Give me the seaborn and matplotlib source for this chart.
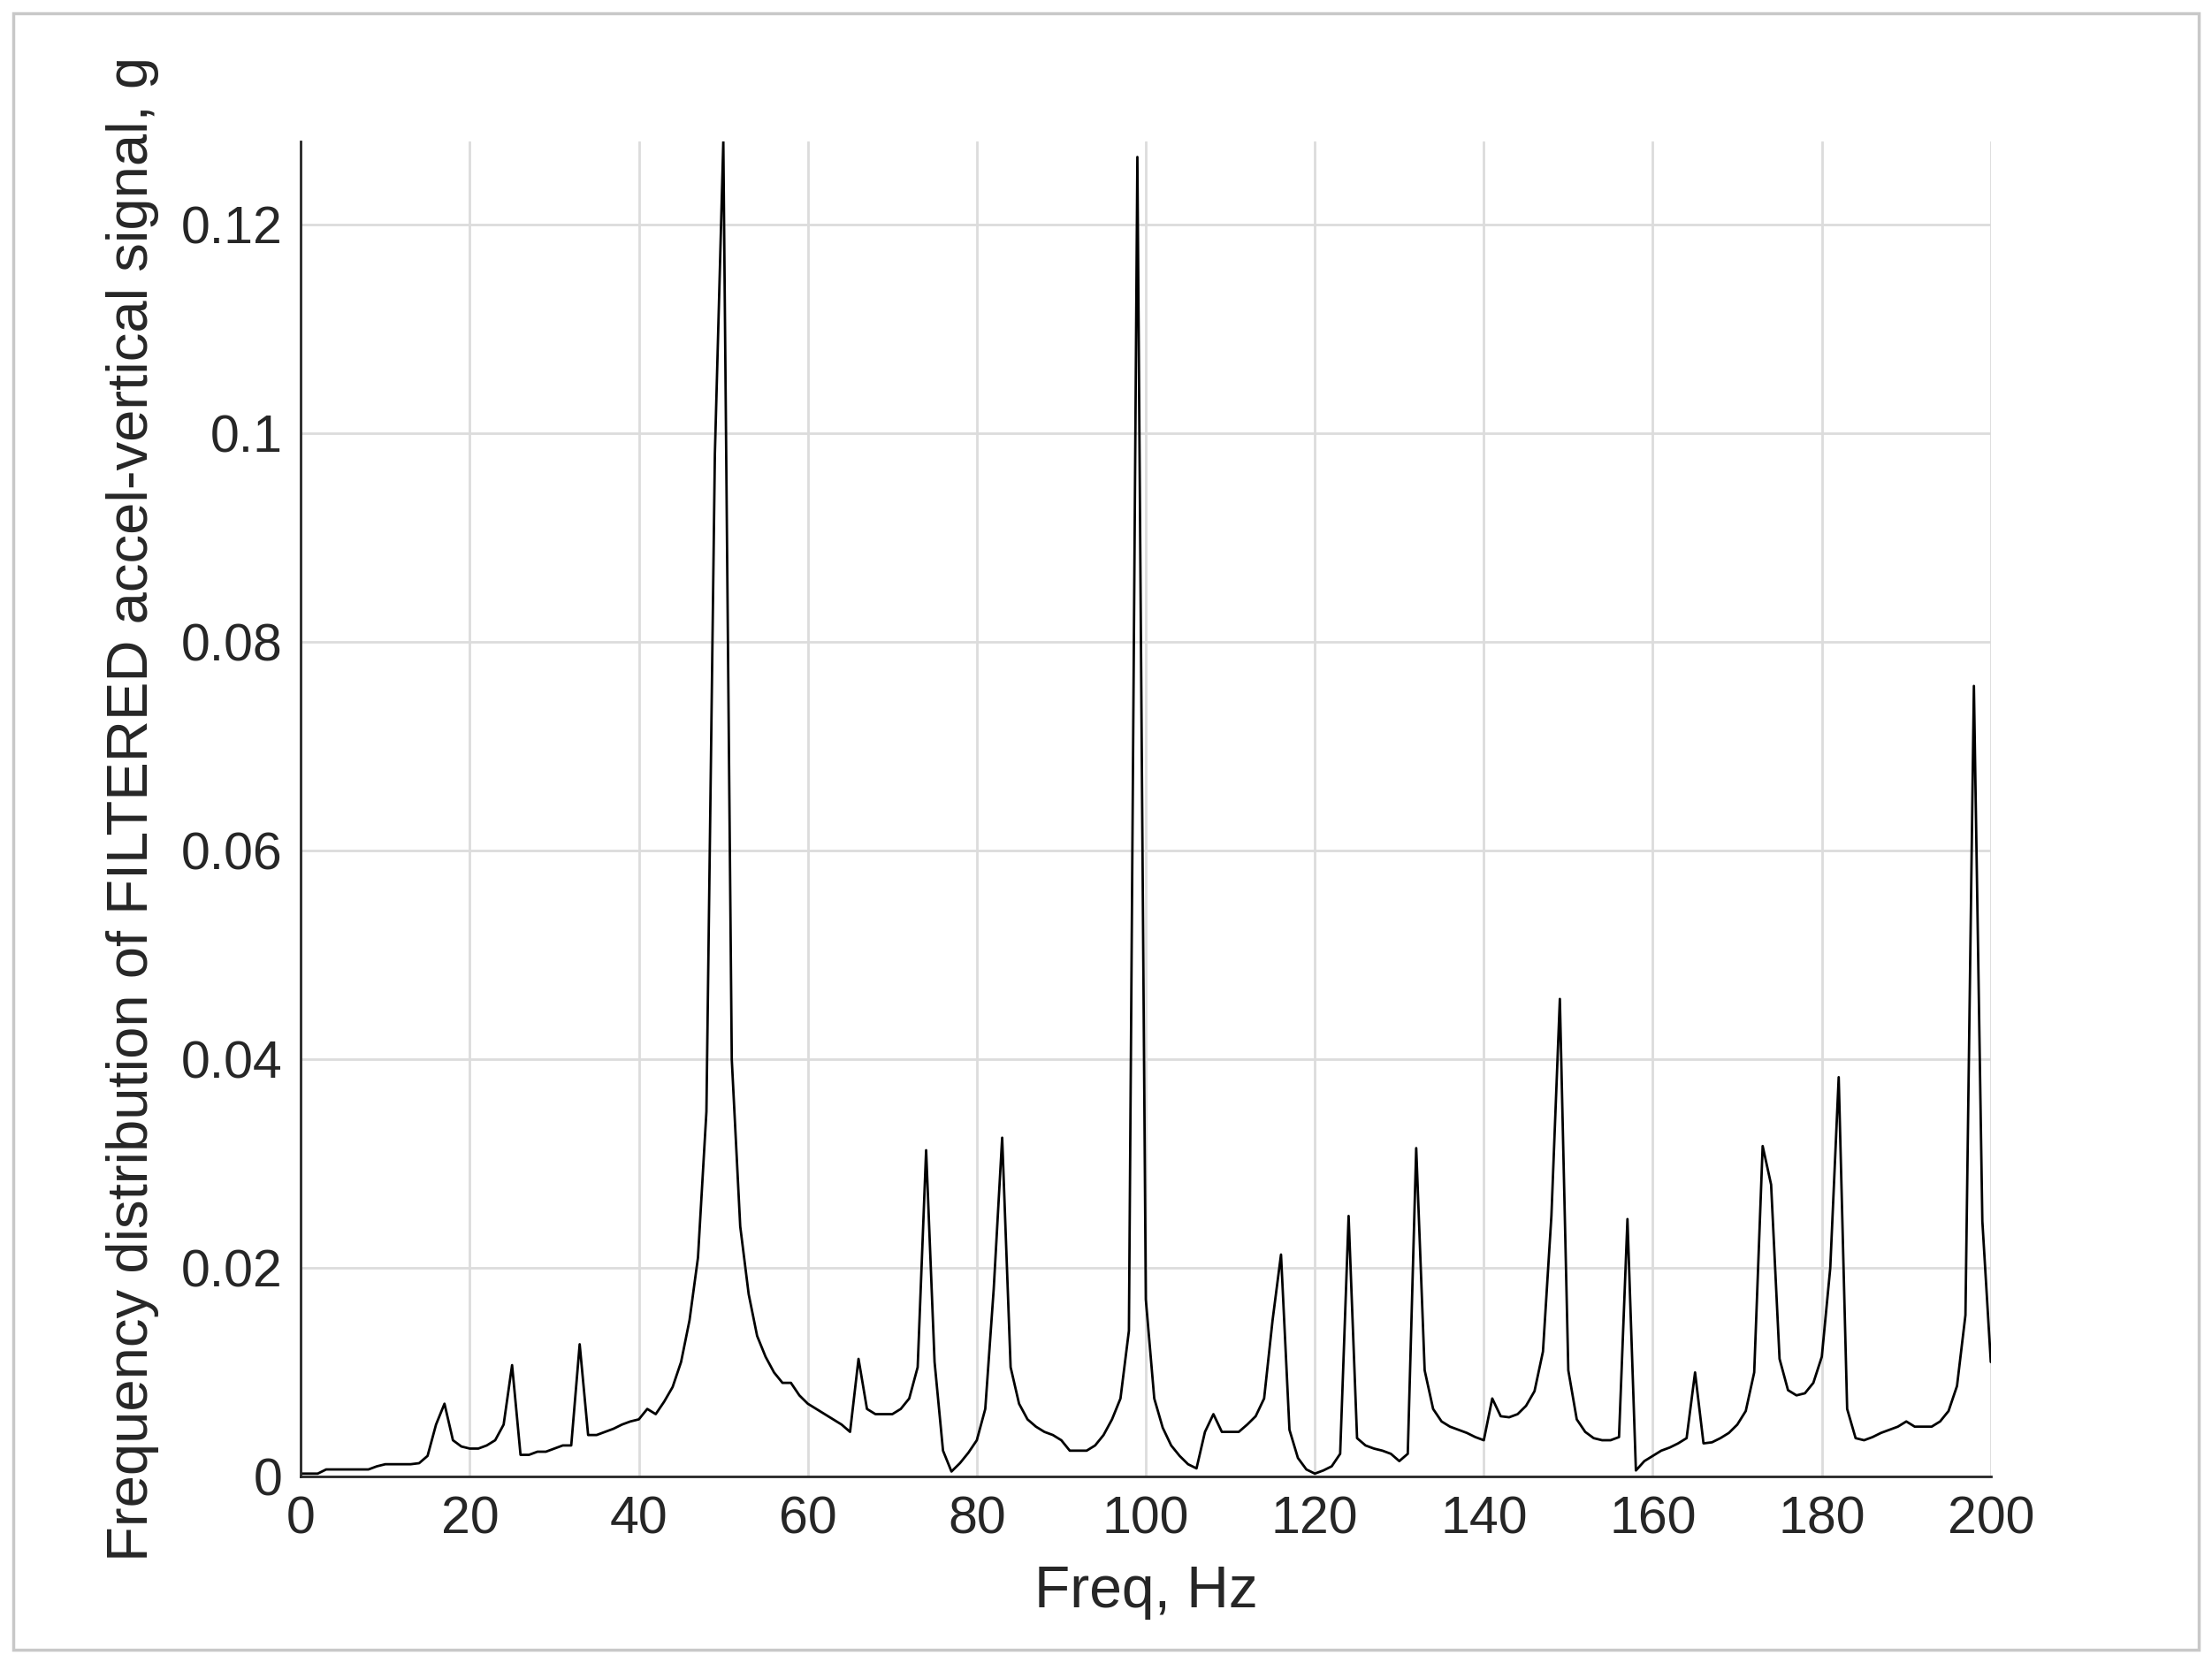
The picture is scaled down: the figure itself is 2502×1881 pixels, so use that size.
import matplotlib
matplotlib.use("Agg")
import matplotlib.pyplot as plt
import pandas as pd
import seaborn as sns

freq_hz = list(range(0, 201))
amplitude_g = [
    0.0003, 0.0003, 0.0003, 0.0007, 0.0007, 0.0007, 0.0007, 0.0007, 0.0007, 0.0010,
    0.0012, 0.0012, 0.0012, 0.0012, 0.0013, 0.0020, 0.0050, 0.0070, 0.0035, 0.0029,
    0.0027, 0.0027, 0.0030, 0.0035, 0.0050, 0.0107, 0.0021, 0.0021, 0.0024, 0.0024,
    0.0027, 0.0030, 0.0030, 0.0127, 0.0040, 0.0040, 0.0043, 0.0046, 0.0050, 0.0053,
    0.0055, 0.0065, 0.0060, 0.0072, 0.0086, 0.0110, 0.0150, 0.0210, 0.0350, 0.0980,
    0.1280, 0.0400, 0.0240, 0.0175, 0.0135, 0.0115, 0.0100, 0.0090, 0.0090, 0.0078,
    0.0070, 0.0065, 0.0060, 0.0055, 0.0050, 0.0043, 0.0113, 0.0065, 0.0060, 0.0060,
    0.0060, 0.0065, 0.0075, 0.0105, 0.0313, 0.0110, 0.0025, 0.0005, 0.0013, 0.0023,
    0.0035, 0.0065, 0.0180, 0.0325, 0.0105, 0.0070, 0.0055, 0.0048, 0.0043, 0.0040,
    0.0035, 0.0025, 0.0025, 0.0025, 0.0030, 0.0040, 0.0055, 0.0075, 0.0140, 0.1265,
    0.0170, 0.0075, 0.0047, 0.0030, 0.0020, 0.0012, 0.0008, 0.0043, 0.0060, 0.0043,
    0.0043, 0.0043, 0.0050, 0.0058, 0.0075, 0.0150, 0.0213, 0.0045, 0.0018, 0.0007,
    0.0003, 0.0006, 0.0010, 0.0022, 0.0250, 0.0037, 0.0030, 0.0027, 0.0025, 0.0022,
    0.0015, 0.0022, 0.0315, 0.0102, 0.0065, 0.0053, 0.0048, 0.0045, 0.0042, 0.0038,
    0.0035, 0.0075, 0.0058, 0.0057, 0.0060, 0.0068, 0.0082, 0.0120, 0.0250, 0.0458,
    0.0102, 0.0055, 0.0043, 0.0037, 0.0035, 0.0035, 0.0038, 0.0247, 0.0006, 0.0015,
    0.0020, 0.0025, 0.0028, 0.0032, 0.0037, 0.0100, 0.0032, 0.0033, 0.0037, 0.0042,
    0.0050, 0.0063, 0.0100, 0.0317, 0.0280, 0.0113, 0.0083, 0.0078, 0.0080, 0.0090,
    0.0115, 0.0200, 0.0383, 0.0065, 0.0037, 0.0035, 0.0038, 0.0042, 0.0045, 0.0048,
    0.0053, 0.0048, 0.0048, 0.0048, 0.0053, 0.0063, 0.0087, 0.0155, 0.0758, 0.0245,
    0.0110,
]
x_ticks = [0, 20, 40, 60, 80, 100, 120, 140, 160, 180, 200]
y_ticks = [0, 0.02, 0.04, 0.06, 0.08, 0.1, 0.12]
y_tick_labels = ["0", "0.02", "0.04", "0.06", "0.08", "0.1", "0.12"]

spectrum = pd.DataFrame({"freq": freq_hz, "amp": amplitude_g})

sns.set_style("white")
plt.rcParams["font.family"] = ["Liberation Sans", "DejaVu Sans"]

fig = plt.figure(figsize=(10.008, 7.524), dpi=250)
# thin grey frame around the whole picture
fig.patches.append(plt.Rectangle((0.006, 0.008), 0.988, 0.984, transform=fig.transFigure,
                                 fill=False, edgecolor="#c8c8c8", linewidth=1.0))
ax = fig.add_axes([0.136, 0.112, 0.764, 0.803])

sns.lineplot(data=spectrum, x="freq", y="amp", color="black", linewidth=0.8, ax=ax)

ax.set_xlim(0, 200)
ax.set_ylim(0, 0.128)
ax.set_xticks(x_ticks)
ax.set_yticks(y_ticks)
ax.set_yticklabels(y_tick_labels)
ax.grid(True, color="#dcdcdc", linewidth=0.8)
ax.tick_params(direction="in", length=4, width=0.8, colors="#262626", labelsize=17, pad=6)
for side in ["top", "right"]:
    ax.spines[side].set_visible(False)
for side in ["left", "bottom"]:
    ax.spines[side].set_color("#262626")
    ax.spines[side].set_linewidth(0.8)
ax.set_xlabel("Freq, Hz", fontsize=19, color="#262626", labelpad=7)
ax.set_ylabel("Frequency distribution of FILTERED accel-vertical signal, g", fontsize=18.8,
              color="#262626", labelpad=7)

fig.savefig("out.png", dpi=250)
